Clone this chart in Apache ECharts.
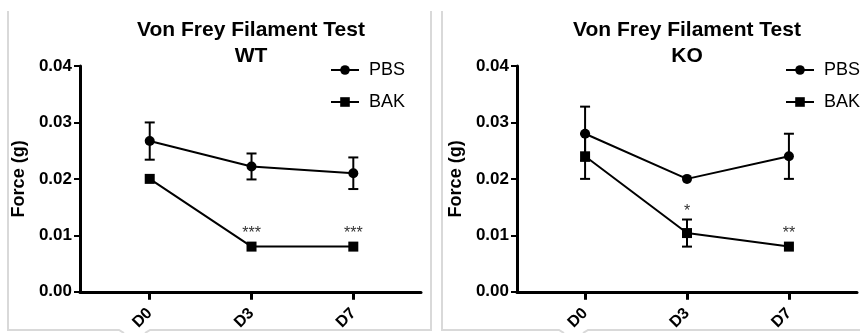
<!DOCTYPE html>
<html>
<head>
<meta charset="utf-8">
<script src="https://cdn.jsdelivr.net/npm/echarts@6/dist/echarts.min.js"></script>
<style>
html,body{margin:0;padding:0;background:#fff;}
#c{width:860px;height:333px;}
</style>
</head>
<body>
<div id="c"></div>
<script>
// ---- data ----
const categories = ['D0', 'D3', 'D7'];
const yTicks = [0, 0.01, 0.02, 0.03, 0.04];

const wtPBS = [0.0267, 0.0222, 0.0210];
const wtPBSerr = [0.0033, 0.0023, 0.0028];
const wtBAK = [0.0200, 0.0080, 0.0080];
const wtBAKerr = [0, 0, 0];
const wtSig = ['', '***', '***'];

const koPBS = [0.0280, 0.0200, 0.0240];
const koPBSerr = [0.0048, 0, 0.0040];
const koBAK = [0.0240, 0.0104, 0.0080];
const koBAKerr = [0.0040, 0.0024, 0];
const koSig = ['', '*', '**'];

const FONT = 'Liberation Sans, Arial, Helvetica, sans-serif';

function pts(vals) { return vals.map((v, i) => [i, v]); }
function errData(vals, errs, sig) { return vals.map((v, i) => [i, v, errs[i], sig ? sig[i] : '']); }

function renderErr(params, api) {
  const x = api.value(0), m = api.value(1), e = api.value(2);
  const lbl = api.value(3);
  const p = api.coord([x, m]);
  const t = api.coord([x, m + e]);
  const b = api.coord([x, m - e]);
  const cw = 5;
  const st = { stroke: '#000', lineWidth: 2 };
  const children = [];
  if (e > 0) {
    children.push({ type: 'line', shape: { x1: p[0], y1: t[1], x2: p[0], y2: b[1] }, style: st });
    children.push({ type: 'line', shape: { x1: p[0] - cw, y1: t[1], x2: p[0] + cw, y2: t[1] }, style: st });
    children.push({ type: 'line', shape: { x1: p[0] - cw, y1: b[1], x2: p[0] + cw, y2: b[1] }, style: st });
  }
  if (lbl && lbl !== '-' ) {
    const top = Math.min(t[1], p[1] - 5);
    children.push({ type: 'text', style: { text: String(lbl), x: p[0], y: top, align: 'center', verticalAlign: 'bottom', fill: '#333', font: '16px ' + FONT } });
  }
  return { type: 'group', children };
}

const grids = [
  { left: 80, top: 66, width: 341, height: 226 },
  { left: 517, top: 66, width: 340, height: 227 }
];
const xRanges = [[-0.685, 2.665], [-0.668, 2.668]];

function xAxis(i) {
  return {
    type: 'value', gridIndex: i, min: xRanges[i][0], max: xRanges[i][1],
    splitLine: { show: false },
    axisLine: { show: true, onZero: false, lineStyle: { color: '#000', width: 3 } },
    axisTick: { show: true, customValues: [0, 1, 2], length: 8, lineStyle: { color: '#000', width: 3 } },
    axisLabel: { show: true, customValues: [0, 1, 2], rotate: 45, margin: 19, formatter: v => categories[Math.round(v)], color: '#000', fontWeight: 'bold', fontSize: 16, fontFamily: FONT }
  };
}
function yAxis(i) {
  return {
    type: 'value', gridIndex: i, min: 0, max: 0.04, interval: 0.01,
    name: 'Force (g)', nameLocation: 'middle', nameGap: 52,
    nameTextStyle: { color: '#000', fontWeight: 'bold', fontSize: 18, fontFamily: FONT },
    splitLine: { show: false },
    axisLine: { show: true, onZero: false, lineStyle: { color: '#000', width: 3 } },
    axisTick: { show: true, length: 6, lineStyle: { color: '#000', width: 2 } },
    axisLabel: { color: '#000', fontWeight: 'bold', fontSize: 17, fontFamily: FONT, margin: 8, formatter: v => v.toFixed(2) }
  };
}

function lineSeries(name, data, symbol, gi) {
  return {
    type: 'line', name, xAxisIndex: gi, yAxisIndex: gi, data: pts(data),
    symbol, symbolSize: 10,
    lineStyle: { color: '#000', width: 2 }, itemStyle: { color: '#000' },
    z: 3, animation: false
  };
}
function errSeries(vals, errs, sig, gi) {
  return {
    type: 'custom', xAxisIndex: gi, yAxisIndex: gi, data: errData(vals, errs, sig),
    renderItem: renderErr, z: 2, animation: false, silent: true,
    encode: { x: 0, y: 1 }
  };
}

const frameStyle = { stroke: '#d9d9d9', lineWidth: 2, fill: null };

const legendBase = {
  orient: 'vertical', top: 61, padding: 0, itemWidth: 28, itemHeight: 12, itemGap: 14,
  data: ['PBS', 'BAK'], textStyle: { fontFamily: FONT, fontSize: 18, color: '#000', padding: [0, 0, 0, 5] }, selectedMode: false
};

const option = {
  backgroundColor: '#fff',
  animation: false,
  title: [
    { text: 'Von Frey Filament Test\nWT', left: 246, top: 12, textAlign: 'center',
      textStyle: { fontFamily: FONT, fontWeight: 'bold', fontSize: 21, lineHeight: 26, color: '#000' } },
    { text: 'Von Frey Filament Test\nKO', left: 682, top: 12, textAlign: 'center',
      textStyle: { fontFamily: FONT, fontWeight: 'bold', fontSize: 21, lineHeight: 26, color: '#000' } }
  ],
  legend: [
    Object.assign({}, legendBase, { left: 330 }),
    Object.assign({}, legendBase, { left: 785 })
  ],
  grid: grids,
  xAxis: [xAxis(0), xAxis(1)],
  yAxis: [yAxis(0), yAxis(1)],
  series: [
    lineSeries('PBS', wtPBS, 'circle', 0),
    lineSeries('BAK', wtBAK, 'rect', 0),
    errSeries(wtPBS, wtPBSerr, null, 0),
    errSeries(wtBAK, wtBAKerr, wtSig, 0),
    lineSeries('PBS', koPBS, 'circle', 1),
    lineSeries('BAK', koBAK, 'rect', 1),
    errSeries(koPBS, koPBSerr, null, 1),
    errSeries(koBAK, koBAKerr, koSig, 1)
  ],
  graphic: [
    { type: 'polyline', silent: true, shape: { points: [[8, 11], [8, 330], [119, 330], [124, 333]] }, style: frameStyle },
    { type: 'polyline', silent: true, shape: { points: [[145, 333], [150, 330], [431, 330], [431, 11]] }, style: frameStyle },
    { type: 'polyline', silent: true, shape: { points: [[442, 11], [442, 330], [559, 330], [564, 333]] }, style: frameStyle },
    { type: 'polyline', silent: true, shape: { points: [[583, 333], [588, 330], [862, 330]] }, style: frameStyle }
  ]
};

const chart = echarts.init(document.getElementById('c'), null, { renderer: 'canvas' });
chart.setOption(option);
</script>
</body>
</html>
